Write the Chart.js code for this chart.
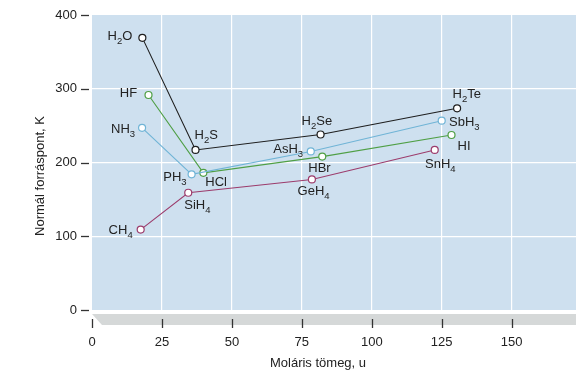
<!DOCTYPE html>
<html>
<head>
<meta charset="utf-8">
<script src="https://cdn.jsdelivr.net/npm/chart.js@4/dist/chart.umd.min.js"></script>
<style>
  html, body { margin: 0; padding: 0; background: #fff; }
  #wrap { width: 576px; height: 378px; }
</style>
</head>
<body>
<div id="wrap"><canvas id="bpChart" width="576" height="378"></canvas></div>
<script>
// ---------------- DATA ----------------
const g16Names = ["H2O", "H2S", "H2Se", "H2Te"];
const g16Mass = [18, 37, 81.7, 130.5];
const g16Bp = [369, 217, 238, 273.5];

const g17Names = ["HF", "HCl", "HBr", "HI"];
const g17Mass = [20.2, 39.8, 82.3, 128.5];
const g17Bp = [291.5, 186, 208, 237.3];

const g15Names = ["NH3", "PH3", "AsH3", "SbH3"];
const g15Mass = [17.9, 35.6, 78.2, 125];
const g15Bp = [247, 184, 215, 256.7];

const g14Names = ["CH4", "SiH4", "GeH4", "SnH4"];
const g14Mass = [17.4, 34.4, 78.6, 122.5];
const g14Bp = [109, 159, 177, 217];

const xTicks = [0, 25, 50, 75, 100, 125, 150];
const yTicks = [0, 100, 200, 300, 400];
const xTitle = "Moláris tömeg, u";
const yTitle = "Normál forráspont, K";

// ---------------- STYLE ----------------
const FONT = '"Liberation Sans", Arial, sans-serif';
const TEXT = "#222";
const PLOT_BG = "#cee0ef";
const STRIP_BG = "#d5d8d8";

// label placement per formula: [dx, dy, align]
const labelPos = {
  H2O: [-10, -1, "right"], H2S: [-1, -15, "left"], H2Se: [-19, -13.5, "left"], H2Te: [-4.6, -14, "left"],
  HF: [-11.4, -1.7, "right"], HCl: [2, 10, "left"], HBr: [-14, 11.6, "left"], HI: [6, 11, "left"],
  NH3: [-7, 1.5, "right"], PH3: [-5, 3, "right"], AsH3: [-7.7, -2.3, "right"], SbH3: [7.3, 2, "left"],
  CH4: [-8, 0.5, "right"], SiH4: [-4, 13, "left"], GeH4: [-14.3, 11.7, "left"], SnH4: [-9.7, 14.3, "left"],
};

function pts(mass, bp) {
  return mass.map((m, i) => ({ x: m, y: bp[i] }));
}

function series(names, mass, bp, color) {
  return {
    names,
    data: pts(mass, bp),
    showLine: true,
    borderColor: color,
    borderWidth: 1.1,
    pointRadius: 3.5,
    pointBorderWidth: 1.2,
    pointBackgroundColor: "#fff",
    pointBorderColor: color,
  };
}

// formula with subscript digits
function drawFormula(ctx, text, x, y, align) {
  const parts = text.match(/[0-9]+|[^0-9]+/g);
  const mainF = `13px ${FONT}`, subF = `9.5px ${FONT}`;
  let w = 0;
  parts.forEach((p) => {
    ctx.font = /\d/.test(p) ? subF : mainF;
    w += ctx.measureText(p).width;
  });
  let cx = align === "right" ? x - w : align === "center" ? x - w / 2 : x;
  ctx.textBaseline = "middle";
  ctx.textAlign = "left";
  parts.forEach((p) => {
    const sub = /\d/.test(p);
    ctx.font = sub ? subF : mainF;
    ctx.fillText(p, cx, sub ? y + 5 : y);
    cx += ctx.measureText(p).width;
  });
}

const decor = {
  id: "decor",
  beforeDraw(chart) {
    const { ctx, chartArea: a } = chart;
    ctx.save();
    ctx.fillStyle = PLOT_BG;
    ctx.fillRect(a.left, a.top, a.right - a.left, a.bottom - a.top);
    // grey floor strip under the plot
    ctx.fillStyle = STRIP_BG;
    ctx.beginPath();
    ctx.moveTo(a.left, a.bottom + 4);
    ctx.lineTo(a.right, a.bottom + 4);
    ctx.lineTo(a.right, a.bottom + 15);
    ctx.lineTo(a.left + 10, a.bottom + 15);
    ctx.closePath();
    ctx.fill();
    ctx.restore();
  },
  afterDraw(chart) {
    const { ctx, chartArea: a, scales } = chart;
    ctx.save();
    ctx.strokeStyle = "#333";
    ctx.lineWidth = 1.3;
    xTicks.forEach((v) => {
      const px = Math.round(scales.x.getPixelForValue(v)) + 0.5;
      ctx.beginPath();
      ctx.moveTo(px, a.bottom + 9);
      ctx.lineTo(px, a.bottom + 18);
      ctx.stroke();
    });
    yTicks.forEach((v) => {
      const py = Math.round(scales.y.getPixelForValue(v)) + 0.5;
      ctx.beginPath();
      ctx.moveTo(a.left - 11, py);
      ctx.lineTo(a.left - 3, py);
      ctx.stroke();
    });

    ctx.fillStyle = TEXT;
    chart.data.datasets.forEach((ds, i) => {
      const meta = chart.getDatasetMeta(i);
      ds.names.forEach((n, j) => {
        const p = meta.data[j];
        const [dx, dy, al] = labelPos[n];
        drawFormula(ctx, n, p.x + dx, p.y + dy, al);
      });
    });

    // axis titles
    ctx.font = `13px ${FONT}`;
    ctx.textAlign = "center";
    ctx.textBaseline = "middle";
    ctx.fillText(xTitle, 318, 363);
    ctx.translate(40, 176);
    ctx.rotate(-Math.PI / 2);
    ctx.fillText(yTitle, 0, 0);
    ctx.restore();
  },
};

// ---------------- CHART ----------------
const chart = new Chart(document.getElementById("bpChart"), {
  type: "scatter",
  data: {
    datasets: [
      series(g16Names, g16Mass, g16Bp, "#1e1e1e"),
      series(g15Names, g15Mass, g15Bp, "#70b4d6"),
      series(g17Names, g17Mass, g17Bp, "#4f9f45"),
      series(g14Names, g14Mass, g14Bp, "#9c3c6c"),
    ],
  },
  options: {
    responsive: false,
    animation: false,
    layout: { autoPadding: false, padding: { top: 15, right: 0, left: 0, bottom: 0 } },
    plugins: { legend: { display: false }, tooltip: { enabled: false } },
    scales: {
      x: {
        type: "linear",
        min: 0,
        max: 173,
        afterBuildTicks: (s) => { s.ticks = xTicks.map((v) => ({ value: v })); },
        afterFit: (s) => { s.height = 68; s.paddingLeft = 0; s.paddingRight = 0; },
        border: { display: false },
        grid: {
          drawTicks: false,
          lineWidth: 1.2,
          color: (c) => (c.tick && c.tick.value === 0 ? "rgba(0,0,0,0)" : "#fff"),
        },
        ticks: { padding: 25, color: TEXT, font: { family: FONT, size: 13 } },
      },
      y: {
        min: 0,
        max: 400,
        afterBuildTicks: (s) => { s.ticks = yTicks.map((v) => ({ value: v })); },
        afterFit: (s) => { s.width = 92; s.paddingTop = 0; s.paddingBottom = 0; },
        border: { display: false },
        grid: {
          drawTicks: false,
          lineWidth: 1.2,
          color: (c) => (c.tick && (c.tick.value === 0 || c.tick.value === 400) ? "rgba(0,0,0,0)" : "#fff"),
        },
        ticks: { padding: 15, color: TEXT, font: { family: FONT, size: 13 } },
      },
    },
  },
  plugins: [decor],
});
</script>
</body>
</html>
